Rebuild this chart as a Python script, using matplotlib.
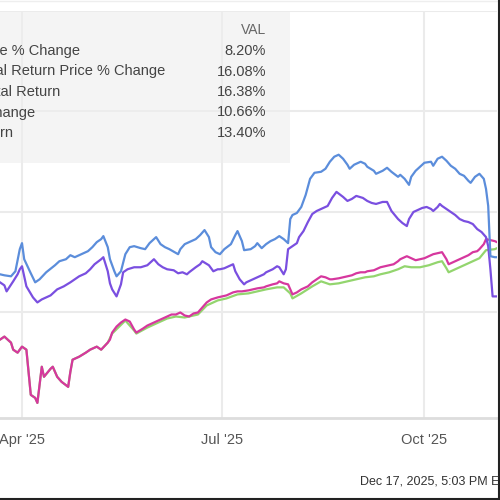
import matplotlib
matplotlib.use('Agg')
import matplotlib.pyplot as plt
from matplotlib.patches import Rectangle
from matplotlib.lines import Line2D
import pandas as pd

plt.rcParams['font.family'] = ['Liberation Sans', 'DejaVu Sans']

# Data (% change)
blue_dates = ['2025-03-22', '2025-03-24', '2025-03-27', '2025-03-29', '2025-03-31', '2025-04-01', '2025-04-02',
              '2025-04-05', '2025-04-07', '2025-04-09', '2025-04-12', '2025-04-16', '2025-04-18', '2025-04-21',
              '2025-04-23', '2025-04-25', '2025-04-27', '2025-05-01', '2025-05-03', '2025-05-05', '2025-05-07',
              '2025-05-08', '2025-05-10', '2025-05-11', '2025-05-13', '2025-05-14', '2025-05-16', '2025-05-18',
              '2025-05-20', '2025-05-22', '2025-05-25', '2025-05-27', '2025-05-29', '2025-06-01', '2025-06-03',
              '2025-06-05', '2025-06-07', '2025-06-11', '2025-06-12', '2025-06-14', '2025-06-16', '2025-06-19',
              '2025-06-21', '2025-06-23', '2025-06-25', '2025-06-26', '2025-06-28', '2025-06-30', '2025-07-02',
              '2025-07-05', '2025-07-07', '2025-07-08', '2025-07-10', '2025-07-11', '2025-07-14', '2025-07-16',
              '2025-07-17', '2025-07-19', '2025-07-21', '2025-07-23', '2025-07-25', '2025-07-27', '2025-07-29',
              '2025-07-31', '2025-08-01', '2025-08-02', '2025-08-04', '2025-08-06', '2025-08-08', '2025-08-10',
              '2025-08-12', '2025-08-15', '2025-08-17', '2025-08-19', '2025-08-21', '2025-08-23', '2025-08-25',
              '2025-08-27', '2025-08-28', '2025-08-30', '2025-09-02', '2025-09-04', '2025-09-05', '2025-09-08',
              '2025-09-09', '2025-09-12', '2025-09-14', '2025-09-16', '2025-09-19', '2025-09-20', '2025-09-22',
              '2025-09-24', '2025-09-25', '2025-09-27', '2025-09-29', '2025-10-01', '2025-10-04', '2025-10-05',
              '2025-10-07', '2025-10-09', '2025-10-10', '2025-10-11', '2025-10-13', '2025-10-15', '2025-10-17',
              '2025-10-19', '2025-10-21', '2025-10-22', '2025-10-24', '2025-10-26', '2025-10-28', '2025-10-29',
              '2025-10-30', '2025-10-31', '2025-11-02', '2025-11-03']
blue_vals = [3.8, 3.7, 3.6, 4.1, 6.3, 6.9, 5.3,
             3.9, 3.0, 3.3, 4.0, 4.7, 5.1, 5.3,
             5.7, 5.5, 5.7, 6.1, 6.5, 7.0, 7.3,
             7.6, 6.5, 5.3, 4.1, 3.6, 4.1, 5.8,
             6.5, 6.6, 6.4, 6.3, 6.9, 7.5, 6.8,
             6.5, 6.3, 5.8, 6.3, 6.8, 7.0, 7.3,
             7.7, 8.2, 7.5, 6.5, 6.0, 5.8, 6.3,
             6.8, 7.7, 8.1, 7.1, 6.2, 6.3, 6.6,
             6.9, 6.4, 6.8, 7.1, 7.3, 7.6, 7.3,
             6.9, 9.3, 9.7, 9.9, 10.5, 11.7, 13.3,
             13.9, 14.0, 14.3, 15.0, 15.5, 15.7, 15.3,
             14.7, 14.3, 14.7, 15.0, 14.8, 14.5, 14.1,
             13.8, 14.1, 14.4, 14.0, 13.5, 13.7, 13.3,
             12.7, 13.5, 14.1, 14.5, 14.9, 15.0, 14.6,
             15.3, 15.5, 15.3, 15.1, 14.6, 14.3, 13.8,
             13.6, 13.1, 12.9, 13.5, 13.8, 13.3, 12.3,
             10.6, 5.6, 5.5, 5.5]

purple_dates = ['2025-03-22', '2025-03-24', '2025-03-25', '2025-03-28', '2025-03-30', '2025-03-31', '2025-04-01',
                '2025-04-03', '2025-04-06', '2025-04-08', '2025-04-10', '2025-04-14', '2025-04-17', '2025-04-20',
                '2025-04-23', '2025-04-25', '2025-04-27', '2025-04-30', '2025-05-02', '2025-05-04', '2025-05-07',
                '2025-05-08', '2025-05-10', '2025-05-11', '2025-05-12', '2025-05-14', '2025-05-16', '2025-05-17',
                '2025-05-19', '2025-05-22', '2025-05-25', '2025-05-28', '2025-05-31', '2025-06-02', '2025-06-04',
                '2025-06-06', '2025-06-09', '2025-06-11', '2025-06-13', '2025-06-15', '2025-06-16', '2025-06-19',
                '2025-06-21', '2025-06-22', '2025-06-25', '2025-06-27', '2025-06-29', '2025-06-30', '2025-07-02',
                '2025-07-05', '2025-07-06', '2025-07-07', '2025-07-09', '2025-07-11', '2025-07-12', '2025-07-15',
                '2025-07-17', '2025-07-20', '2025-07-21', '2025-07-24', '2025-07-26', '2025-07-27', '2025-07-29',
                '2025-07-30', '2025-07-31', '2025-08-02', '2025-08-04', '2025-08-05', '2025-08-07', '2025-08-09',
                '2025-08-11', '2025-08-13', '2025-08-15', '2025-08-18', '2025-08-20', '2025-08-22', '2025-08-25',
                '2025-08-27', '2025-08-29', '2025-08-31', '2025-09-03', '2025-09-05', '2025-09-07', '2025-09-09',
                '2025-09-12', '2025-09-14', '2025-09-16', '2025-09-19', '2025-09-21', '2025-09-23', '2025-09-24',
                '2025-09-26', '2025-09-28', '2025-09-30', '2025-10-02', '2025-10-04', '2025-10-05', '2025-10-07',
                '2025-10-08', '2025-10-09', '2025-10-11', '2025-10-13', '2025-10-15', '2025-10-17', '2025-10-19',
                '2025-10-21', '2025-10-23', '2025-10-25', '2025-10-27', '2025-10-29', '2025-10-30', '2025-10-31',
                '2025-11-01', '2025-11-03']
purple_vals = [3.0, 2.7, 2.1, 3.1, 3.8, 4.3, 4.6,
               2.6, 1.5, 1.0, 1.3, 1.7, 2.3, 2.6,
               3.0, 3.3, 3.6, 3.9, 4.3, 4.8, 5.3,
               5.5, 4.1, 2.9, 2.3, 1.6, 2.8, 4.0,
               4.3, 4.5, 4.5, 4.7, 5.3, 4.8, 4.5,
               4.3, 4.2, 3.9, 4.0, 3.8, 4.0, 4.5,
               4.8, 5.1, 4.7, 4.1, 4.3, 4.3, 4.4,
               4.7, 4.8, 4.1, 3.3, 2.8, 3.0, 3.3,
               3.5, 3.8, 4.0, 4.3, 4.6, 4.5, 3.8,
               4.3, 6.3, 6.6, 6.9, 7.5, 8.1, 9.0,
               9.8, 10.1, 10.3, 10.6, 11.4, 12.0, 11.5,
               11.1, 11.3, 11.6, 11.4, 11.1, 10.9, 10.8,
               11.0, 11.0, 10.1, 9.3, 8.9, 8.6, 9.3,
               10.0, 10.2, 10.4, 10.5, 10.3, 10.1, 10.5,
               10.8, 10.6, 10.3, 10.0, 9.7, 9.3, 9.1,
               9.0, 8.8, 8.3, 8.0, 7.5, 6.6, 4.3,
               1.6, 1.6]

pink_dates = ['2025-03-22', '2025-03-24', '2025-03-27', '2025-03-28', '2025-03-30', '2025-04-01', '2025-04-03',
              '2025-04-05', '2025-04-07', '2025-04-08', '2025-04-09', '2025-04-10', '2025-04-11', '2025-04-14',
              '2025-04-15', '2025-04-17', '2025-04-19', '2025-04-22', '2025-04-23', '2025-04-24', '2025-04-27',
              '2025-04-30', '2025-05-02', '2025-05-05', '2025-05-07', '2025-05-10', '2025-05-11', '2025-05-12',
              '2025-05-14', '2025-05-16', '2025-05-18', '2025-05-20', '2025-05-22', '2025-05-23', '2025-05-26',
              '2025-05-28', '2025-05-30', '2025-06-01', '2025-06-04', '2025-06-06', '2025-06-08', '2025-06-10',
              '2025-06-12', '2025-06-14', '2025-06-16', '2025-06-18', '2025-06-20', '2025-06-22', '2025-06-24',
              '2025-06-26', '2025-06-29', '2025-07-01', '2025-07-03', '2025-07-06', '2025-07-08', '2025-07-10',
              '2025-07-13', '2025-07-15', '2025-07-17', '2025-07-20', '2025-07-21', '2025-07-24', '2025-07-26',
              '2025-07-27', '2025-07-29', '2025-07-31', '2025-08-01', '2025-08-02', '2025-08-04', '2025-08-06',
              '2025-08-09', '2025-08-11', '2025-08-13', '2025-08-15', '2025-08-17', '2025-08-19', '2025-08-20',
              '2025-08-23', '2025-08-25', '2025-08-27', '2025-08-29', '2025-08-31', '2025-09-02', '2025-09-04',
              '2025-09-05', '2025-09-08', '2025-09-09', '2025-09-11', '2025-09-13', '2025-09-15', '2025-09-17',
              '2025-09-19', '2025-09-20', '2025-09-22', '2025-09-23', '2025-09-25', '2025-09-27', '2025-09-29',
              '2025-10-01', '2025-10-03', '2025-10-05', '2025-10-07', '2025-10-09', '2025-10-11', '2025-10-12',
              '2025-10-13', '2025-10-15', '2025-10-17', '2025-10-19', '2025-10-21', '2025-10-23', '2025-10-25',
              '2025-10-26', '2025-10-28', '2025-10-29', '2025-10-31', '2025-11-02', '2025-11-03']
pink_vals = [-2.7, -2.4, -3.0, -3.7, -4.0, -3.4, -3.7,
             -8.2, -8.5, -9.0, -7.2, -5.4, -6.4, -5.6,
             -5.4, -6.4, -6.9, -7.4, -5.9, -4.7, -4.4,
             -4.0, -3.7, -3.4, -3.7, -3.0, -2.7, -2.0,
             -1.4, -1.0, -0.7, -0.9, -1.7, -2.0, -1.6,
             -1.3, -1.1, -0.9, -0.6, -0.4, -0.2, -0.2,
             0.0, -0.3, -0.4, -0.1, 0.0, 0.5, 1.0,
             1.3, 1.5, 1.6, 1.7, 2.0, 2.1, 2.1,
             2.2, 2.3, 2.4, 2.5, 2.6, 2.8, 2.9,
             3.1, 2.9, 2.8, 2.3, 1.8, 2.0, 2.3,
             2.6, 3.0, 3.3, 3.6, 3.5, 3.3, 3.3,
             3.4, 3.5, 3.6, 3.7, 3.9, 4.0, 4.0,
             4.1, 4.2, 4.3, 4.5, 4.6, 4.7, 4.8,
             5.1, 5.3, 5.5, 5.6, 5.4, 5.2, 5.3,
             5.4, 5.6, 5.8, 5.9, 6.0, 5.3, 4.8,
             4.9, 5.1, 5.3, 5.5, 5.7, 6.0, 6.1,
             6.3, 6.8, 7.3, 7.2, 7.1, 7.0]

# green runs under the pink line until mid May
green_dates = ['2025-03-22', '2025-03-24', '2025-03-27', '2025-03-28', '2025-03-30', '2025-04-01', '2025-04-03',
               '2025-04-05', '2025-04-07', '2025-04-08', '2025-04-09', '2025-04-10', '2025-04-11', '2025-04-14',
               '2025-04-15', '2025-04-17', '2025-04-19', '2025-04-22', '2025-04-23', '2025-04-24', '2025-04-27',
               '2025-04-30', '2025-05-02', '2025-05-05', '2025-05-07', '2025-05-10', '2025-05-12', '2025-05-18',
               '2025-05-22', '2025-05-23', '2025-05-28', '2025-06-01', '2025-06-06', '2025-06-10', '2025-06-14',
               '2025-06-20', '2025-06-24', '2025-06-29', '2025-07-03', '2025-07-08', '2025-07-13', '2025-07-17',
               '2025-07-21', '2025-07-26', '2025-07-29', '2025-08-01', '2025-08-02', '2025-08-06', '2025-08-11',
               '2025-08-15', '2025-08-19', '2025-08-23', '2025-08-27', '2025-08-31', '2025-09-04', '2025-09-08',
               '2025-09-11', '2025-09-15', '2025-09-19', '2025-09-22', '2025-09-25', '2025-09-29', '2025-10-03',
               '2025-10-07', '2025-10-09', '2025-10-11', '2025-10-12', '2025-10-15', '2025-10-19', '2025-10-23',
               '2025-10-26', '2025-10-29', '2025-11-02', '2025-11-03']
green_vals = [-2.7, -2.4, -3.0, -3.7, -4.0, -3.4, -3.7,
              -8.2, -8.5, -9.0, -7.2, -5.4, -6.4, -5.6,
              -5.4, -6.4, -6.9, -7.4, -5.9, -4.7, -4.4,
              -4.0, -3.7, -3.4, -3.7, -3.0, -2.1, -0.8,
              -1.8, -2.1, -1.5, -1.1, -0.6, -0.4, -0.5,
              -0.2, 0.7, 1.2, 1.4, 1.8, 1.9, 2.1,
              2.3, 2.5, 2.5, 1.9, 1.4, 1.9, 2.6,
              3.1, 2.8, 2.9, 3.1, 3.3, 3.5, 3.6,
              3.8, 4.0, 4.3, 4.6, 4.5, 4.5, 4.7,
              5.0, 5.1, 4.4, 4.0, 4.3, 4.7, 5.1,
              5.4, 6.2, 6.3, 6.4]

legend_labels = ['VAL Price % Change', 'VAL Total Return Price % Change', 'VAL Total Return',
                 'S&P 500 % Change', 'S&P 500 Total Return']
legend_values = ['8.20%', '16.08%', '16.38%', '10.66%', '13.40%']
tick_dates = ['2025-04-01', '2025-07-01', '2025-10-01']
tick_labels = ["Apr '25", "Jul '25", "Oct '25"]

fig = plt.figure(figsize=(5, 5), dpi=100)
ax = fig.add_axes([0, 0.164, 0.994, 0.814])

ax.plot(pd.to_datetime(green_dates), green_vals, color='#93d56e', lw=1.6, zorder=3)
ax.plot(pd.to_datetime(pink_dates), pink_vals, color='#d6379e', lw=1.6, zorder=4)
ax.plot(pd.to_datetime(purple_dates), purple_vals, color='#7a4fe0', lw=1.6, zorder=5)
ax.plot(pd.to_datetime(blue_dates), blue_vals, color='#5b8ddb', lw=1.6, zorder=6)

ax.set_xlim(pd.Timestamp('2025-03-22'), pd.Timestamp('2025-11-03'))
ax.set_ylim(-10.5, 30)
ax.set_yticks([0, 10, 20, 30])
ax.set_xticks(pd.to_datetime(tick_dates))
ax.set_xticklabels(tick_labels, fontsize=10.5, color='#555555')
ax.tick_params(axis='x', length=0, pad=11)
ax.tick_params(axis='y', length=0, labelleft=False)
ax.grid(True, color='#ebebeb', lw=1.5)
ax.set_axisbelow(True)
for s in ['top', 'right', 'left']:
    ax.spines[s].set_visible(False)
ax.spines['bottom'].set_color('#dddddd')
ax.spines['bottom'].set_linewidth(2)

# legend table (cropped on the left like the screenshot)
fig.add_artist(Rectangle((0, 1 - 163 / 500), 290 / 500, 151 / 500, transform=fig.transFigure,
                         facecolor='#eeeeee', alpha=0.6, edgecolor='none', zorder=3))
fig.text(266 / 500, 1 - 30 / 500, 'VAL', ha='right', va='center', fontsize=10, color='#666666', zorder=4)
row_ends = [80, 165, 60, 35, 13]
for i, (lab, val) in enumerate(zip(legend_labels, legend_values)):
    y = 1 - (51 + 20.5 * i) / 500
    fig.text(row_ends[i] / 500, y, lab, ha='right', va='center', fontsize=10.5, color='#444444', zorder=4)
    fig.text(266 / 500, y, val, ha='right', va='center', fontsize=10.5, color='#444444', zorder=4)

fig.text(360 / 500, 1 - 482 / 500, 'Dec 17, 2025, 5:03 PM EST  Powered by YCHARTS', ha='left', va='center',
         fontsize=9, color='#333333')

# screenshot frame
fig.add_artist(Line2D([0, 1], [0.998, 0.998], transform=fig.transFigure, color='#eeeeee', lw=1))
fig.add_artist(Line2D([0.997, 0.997], [0, 1], transform=fig.transFigure, color='#222222', lw=1.5))
fig.add_artist(Line2D([0, 1], [0.003, 0.003], transform=fig.transFigure, color='#222222', lw=1.5))

fig.savefig('out.png', dpi=100)
